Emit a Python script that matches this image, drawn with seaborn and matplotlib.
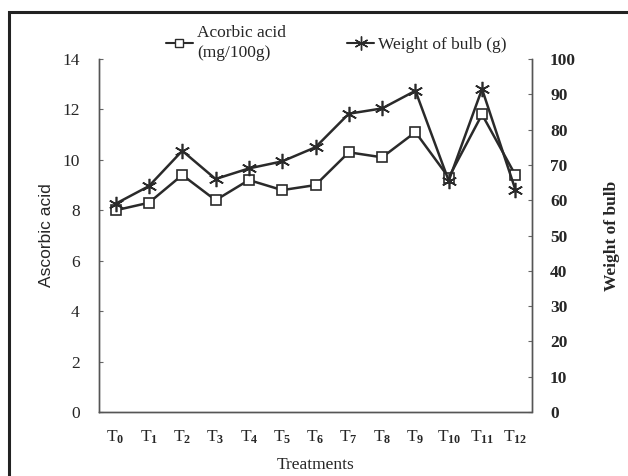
import matplotlib
matplotlib.use("Agg")
import matplotlib.pyplot as plt
from matplotlib.lines import Line2D
from matplotlib.patches import Rectangle
from matplotlib.ticker import FixedLocator
import seaborn as sns
import pandas as pd

treatments = ["T0", "T1", "T2", "T3", "T4", "T5", "T6", "T7", "T8", "T9", "T10", "T11", "T12"]
tick_labels = [r"T$_{\mathbf{%d}}$" % i for i in range(13)]
ascorbic_acid = [8.0, 8.3, 9.4, 8.4, 9.2, 8.8, 9.0, 10.3, 10.1, 11.1, 9.3, 11.8, 9.4]
bulb_weight = [59, 64, 74, 66, 69, 71, 75, 84.5, 86, 91, 65.5, 91.5, 63]
left_ticks = [0, 2, 4, 6, 8, 10, 12, 14]
right_ticks = [0, 10, 20, 30, 40, 50, 60, 70, 80, 90, 100]

sns.set_theme(style="white")
plt.rcParams["font.family"] = ["Liberation Serif", "DejaVu Serif"]
plt.rcParams["mathtext.fontset"] = "custom"
plt.rcParams["mathtext.rm"] = "Liberation Serif"
plt.rcParams["mathtext.bf"] = "Liberation Serif:bold"
plt.rcParams["mathtext.it"] = "Liberation Serif:italic"

df = pd.DataFrame({"Treatment": treatments, "Ascorbic": ascorbic_acid, "Weight": bulb_weight})

fig = plt.figure(figsize=(6.28, 4.76), dpi=100)
ax = fig.add_axes([99 / 628, 1 - 412 / 476, (532 - 99) / 628, (412 - 59) / 476])
ax2 = ax.twinx()

lc = "#2a2a2a"
sns.lineplot(data=df, x="Treatment", y="Ascorbic", ax=ax, color=lc, lw=1.8,
             marker="s", markersize=7, markerfacecolor="white", markeredgecolor=lc,
             markeredgewidth=1.2, sort=False)
sns.lineplot(data=df, x="Treatment", y="Weight", ax=ax2, color=lc, lw=1.8,
             marker=(6, 2, 0), markersize=11, markeredgecolor=lc,
             markeredgewidth=1.2, sort=False)

ax.set_xlim(-0.5, 12.5)
ax.set_ylim(0, 14)
ax2.set_ylim(0, 100)

ax.set_xticks(range(13))
ax.set_xticklabels(tick_labels, fontsize=12.5)
ax.xaxis.set_minor_locator(FixedLocator([i - 0.5 for i in range(14)]))
ax.tick_params(axis="x", which="major", length=0, pad=12)
ax.tick_params(axis="x", which="minor", length=3, width=0.8, color="#666", direction="out")

ax.set_yticks(left_ticks)
ax.set_yticklabels([str(t) for t in left_ticks], fontsize=12.5)
ax.tick_params(axis="y", length=3, width=0.8, color="#666", direction="in", pad=14, left=True)
ax2.set_yticks(right_ticks)
ax2.set_yticklabels([str(t) for t in right_ticks], fontsize=12.5, fontweight="bold")
ax2.tick_params(axis="y", length=3, width=0.8, color="#666", direction="in", pad=13, right=True)

ax.set_xlabel("Treatments", fontsize=12.5, labelpad=8)
ax.set_ylabel("Ascorbic acid", fontsize=12.5, family=["Liberation Sans", "DejaVu Sans"], labelpad=6)
ax2.set_ylabel("Weight of bulb", fontsize=12.5, fontweight="bold", labelpad=20)

for a in (ax, ax2):
    for side in ("left", "right", "bottom"):
        a.spines[side].set_visible(True)
        a.spines[side].set_linestyle((0, (1, 1)))
        a.spines[side].set_color("#555")
        a.spines[side].set_linewidth(1.0)
    a.spines["top"].set_visible(False)
    a.grid(False)

handles = [
    Line2D([], [], color=lc, lw=1.5, marker="s", markersize=6, markerfacecolor="white",
           markeredgecolor=lc),
    Line2D([], [], color=lc, lw=1.5, marker=(6, 2, 0), markersize=10, markeredgecolor=lc),
]
leg = fig.legend(handles, ["Acorbic acid\n(mg/100g)", "Weight of bulb (g)"], ncol=2,
                 loc="upper center", bbox_to_anchor=(0.535, 0.98), frameon=False,
                 fontsize=12.5, handlelength=1.6, handletextpad=0.2, columnspacing=3.5)
for t in leg.get_texts():
    t.set_linespacing(1.35)

fig.patches.append(Rectangle((9 / 628, -0.2), 1.2, 1.2 - 12 / 476,
                             transform=fig.transFigure, fill=False,
                             edgecolor="#222", linewidth=2.2))

fig.savefig("out.png", dpi=100, facecolor="white")
